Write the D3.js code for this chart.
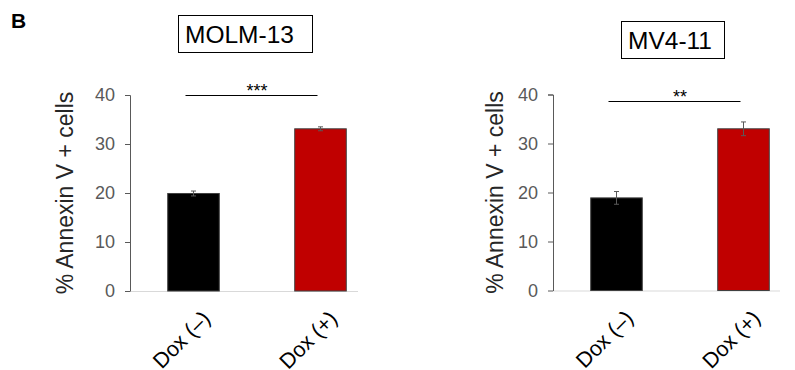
<!DOCTYPE html>
<html>
<head>
<meta charset="utf-8">
<script src="https://cdn.jsdelivr.net/npm/d3@7"></script>
<style>
    body { margin: 0; background: #fff; }
    svg text { font-family: "Liberation Sans", Arial, sans-serif; }
</style>
</head>
<body>
<div id="fig"></div>
<script>
var groups = ["Dox (\u2013)", "Dox (+)"];
var cellLines = ["MOLM-13", "MV4-11"];
var molmMeans = [19.9, 33.1];
var molmErrors = [0.5, 0.4];
var mv4Means = [18.9, 33.0];
var mv4Errors = [1.3, 1.4];
var significance = ["***", "**"];
var yTicks = [0, 10, 20, 30, 40];
var yLabel = "% Annexin V + cells";

var barColors = ["#000000", "#c00000"];

var svg = d3.select('#fig')
    .append('svg')
    .attr('width', 795)
    .attr('height', 370);

// panel letter
svg.append('text')
    .attr('x', 11)
    .attr('y', 27.5)
    .attr('font-size', 21)
    .attr('font-weight', 'bold')
    .text('B');

var drawPanel = function(opts) {

    var data = opts.means.map(function(m, i) {
        return { key: groups[i], value: m, err: opts.errors[i] };
    });

    var x = d3.scaleBand()
        .domain(groups)
        .range([opts.left, opts.left + 254])
        .paddingInner(0.594)
        .paddingOuter(0.297);

    var y = d3.scaleLinear()
        .domain([0, 40])
        .range([opts.bottom, opts.bottom - 196]);

    var g = svg.append('g');

    /* title box */
    g.append('rect')
        .attr('x', opts.boxX + 0.5)
        .attr('y', opts.titleY - 28 + 0.5)
        .attr('width', opts.boxW)
        .attr('height', 37)
        .attr('fill', 'none')
        .attr('stroke', '#000')
        .attr('stroke-width', 1);
    g.append('text')
        .attr('x', opts.boxX + 7)
        .attr('y', opts.titleY)
        .attr('font-size', 24.5)
        .attr('fill', '#000')
        .text(opts.name);

    /* x baseline */
    g.append('line')
        .attr('x1', opts.left)
        .attr('x2', opts.axisEnd)
        .attr('y1', y(0) + 0.5)
        .attr('y2', y(0) + 0.5)
        .attr('stroke', '#d9d9d9')
        .attr('stroke-width', 1);

    /* bars */
    g.selectAll('rect.bar')
        .data(data)
        .enter().append('rect')
        .attr('class', 'bar')
        .attr('x', function(d) { return x(d.key); })
        .attr('y', function(d) { return y(d.value); })
        .attr('width', x.bandwidth())
        .attr('height', function(d) { return y(0) - y(d.value); })
        .attr('fill', function(d, i) { return barColors[i]; })
        .attr('stroke', '#404040')
        .attr('stroke-width', 1);

    /* error bars */
    var eb = g.selectAll('g.err')
        .data(data)
        .enter().append('g')
        .attr('class', 'err')
        .attr('stroke', '#595959')
        .attr('stroke-width', 1);
    eb.append('line')
        .attr('x1', function(d) { return x(d.key) + x.bandwidth() / 2; })
        .attr('x2', function(d) { return x(d.key) + x.bandwidth() / 2; })
        .attr('y1', function(d) { return y(d.value + d.err); })
        .attr('y2', function(d) { return y(d.value - d.err); });
    eb.selectAll('line.cap')
        .data(function(d) { return [{ d: d, v: d.value + d.err }, { d: d, v: d.value - d.err }]; })
        .enter().append('line')
        .attr('class', 'cap')
        .attr('x1', function(c) { return x(c.d.key) + x.bandwidth() / 2 - 2.5; })
        .attr('x2', function(c) { return x(c.d.key) + x.bandwidth() / 2 + 2.5; })
        .attr('y1', function(c) { return y(c.v); })
        .attr('y2', function(c) { return y(c.v); });

    /* y axis */
    var yAxis = g.append('g')
        .attr('transform', 'translate(' + opts.left + ',0)')
        .call(d3.axisLeft(y).tickValues(yTicks).tickSize(5).tickPadding(10).tickFormat(d3.format('d')));
    yAxis.select('.domain')
        .attr('d', 'M-5,' + (y(40) + 0.5) + 'H0.5V' + (y(0) + 0.5))
        .attr('stroke', '#595959');
    yAxis.selectAll('.tick line').attr('stroke', '#595959');
    yAxis.selectAll('.tick text')
        .attr('fill', '#595959')
        .attr('font-size', 18)
        .style('font-family', '"Liberation Sans", Arial, sans-serif');

    /* y label */
    g.append('text')
        .attr('transform', 'translate(' + opts.labelX + ',' + (y(20)) + ') rotate(-90)')
        .attr('text-anchor', 'middle')
        .attr('font-size', 23)
        .attr('fill', '#262626')
        .text(yLabel);

    /* x labels, rotated */
    g.selectAll('text.xlab')
        .data(groups)
        .enter().append('text')
        .attr('class', 'xlab')
        .attr('text-anchor', 'end')
        .attr('font-size', 21.5)
        .attr('fill', '#000')
        .attr('transform', function(d) {
            return 'translate(' + (x(d) + x.bandwidth() / 2 + 18) + ',' + (y(0) + 29) + ') rotate(-45)';
        })
        .text(function(d) { return d; });

    /* significance bracket */
    var c0 = x(groups[0]) + x.bandwidth() / 2,
        c1 = x(groups[1]) + x.bandwidth() / 2;
    g.append('line')
        .attr('x1', c0 - 8)
        .attr('x2', c1 - 3)
        .attr('y1', opts.sigY + 0.5)
        .attr('y2', opts.sigY + 0.5)
        .attr('stroke', '#000')
        .attr('stroke-width', 1);
    g.append('text')
        .attr('x', (c0 + c1) / 2)
        .attr('y', opts.sigY + 2)
        .attr('text-anchor', 'middle')
        .attr('font-size', 18)
        .attr('fill', '#000')
        .text(opts.stars);
}

drawPanel({ name: cellLines[0], means: molmMeans, errors: molmErrors, stars: significance[0],
    left: 130, bottom: 291, axisEnd: 358, labelX: 73, boxX: 178, boxW: 134, titleY: 43, sigY: 95 });
drawPanel({ name: cellLines[1], means: mv4Means, errors: mv4Errors, stars: significance[1],
    left: 553, bottom: 290.5, axisEnd: 780, labelX: 503, boxX: 621, boxW: 103, titleY: 49, sigY: 101 });
</script>
</body>
</html>
